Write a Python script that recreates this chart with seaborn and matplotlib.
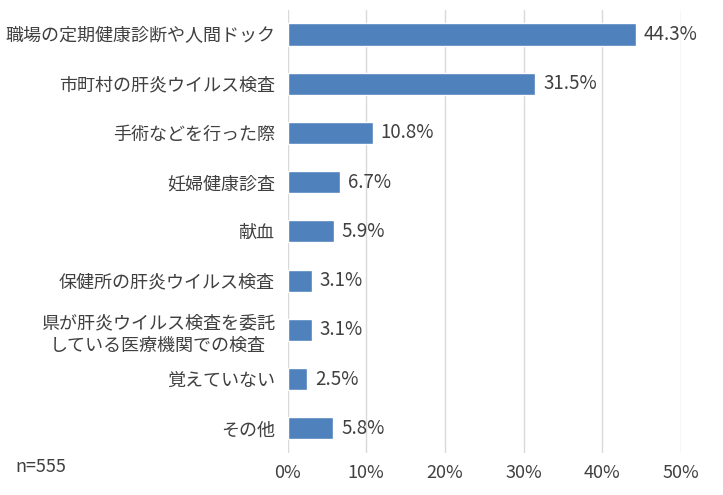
import pandas as pd
import matplotlib
matplotlib.use("Agg")
import matplotlib.pyplot as plt
import seaborn as sns

categories = [
    "職場の定期健康診断や人間ドック",
    "市町村の肝炎ウイルス検査",
    "手術などを行った際",
    "妊婦健康診査",
    "献血",
    "保健所の肝炎ウイルス検査",
    "県が肝炎ウイルス検査を委託\nしている医療機関での検査",
    "覚えていない",
    "その他",
]
values = [44.3, 31.5, 10.8, 6.7, 5.9, 3.1, 3.1, 2.5, 5.8]
xticks = [0, 10, 20, 30, 40, 50]

sns.set_style("white")
plt.rcParams["font.family"] = ["Noto Sans CJK JP", "DejaVu Sans"]

data = pd.DataFrame({"cat": categories, "val": values})

fig = plt.figure(figsize=(7.23, 4.95), dpi=100)
ax = fig.add_axes([0.3977, 0.085, 0.5443, 0.895])

sns.barplot(data=data, x="val", y="cat", orient="h", color="#4F81BD",
            saturation=1, width=0.45, ax=ax)

ax.set_xlim(0, 50)
ax.set_xticks(xticks)
ax.set_xticklabels([f"{t}%" for t in xticks])
ax.set_xlabel("")
ax.set_ylabel("")
ax.grid(axis="x", color="#D9D9D9", linewidth=1)
ax.set_axisbelow(True)
for s in ax.spines.values():
    s.set_visible(False)
ax.tick_params(axis="both", length=0, labelsize=13, colors="#404040")
ax.tick_params(axis="y", pad=9)
ax.tick_params(axis="x", pad=8)
for lab in ax.get_yticklabels():
    lab.set_multialignment("center")
    lab.set_linespacing(1.35)

for i, v in enumerate(values):
    ax.text(v + 1.0, i, f"{v}%", va="center", ha="left",
            fontsize=13.5, color="#404040")

fig.text(15 / 723, 1 - 467 / 495, "n=555", fontsize=13, color="#404040",
         va="center", ha="left")

fig.savefig("out.png", dpi=100)
